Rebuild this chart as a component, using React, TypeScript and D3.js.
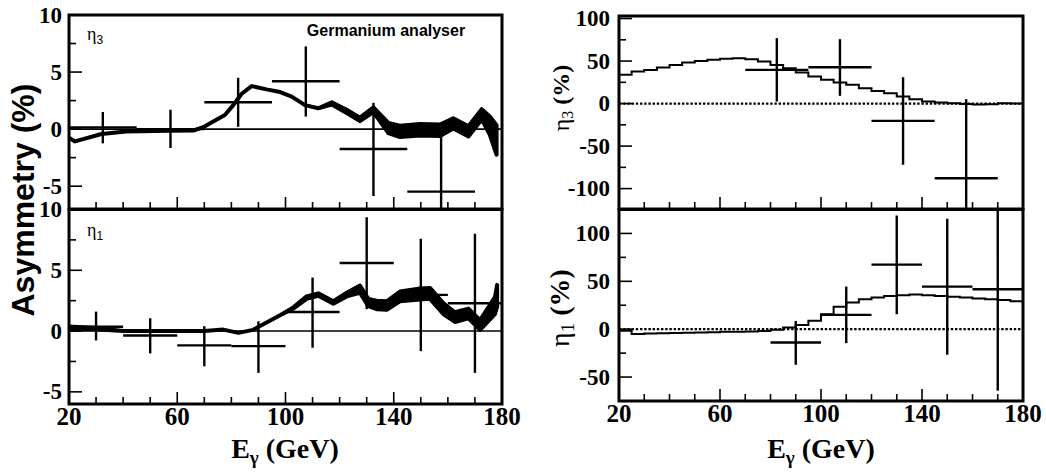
import React from "react";
import * as d3 from "d3";

// ---------- DATA ----------
// Left top: eta3, Germanium analyser (25 GeV bins)
const GE3_X = [32.5, 57.5, 82.5, 107.5, 132.5, 157.5];
const GE3_Y = [0.15, 0.0, 2.35, 4.2, -1.74, -5.48];
const GE3_HI = [1.5, 1.7, 4.5, 7.25, 2.3, -0.3];
const GE3_LO = [-1.25, -1.65, 0.2, 1.1, -5.86, -9];
const GE3_HALF = 12.5;

const GE3_CURVE_E = [20, 22.2, 32, 41, 57, 66, 69.6, 73.3, 77.6, 80.7, 83.8, 87.5, 93, 98, 102.3, 107.2, 112.1, 117.1, 122.6, 127.5, 132.5, 138, 142.3, 149.7, 157.1, 162, 167.6, 172.5, 175.5, 178];
const GE3_CURVE_Y = [-0.75, -1.08, -0.43, -0.2, -0.15, -0.12, 0.17, 0.66, 1.24, 2.1, 3.1, 3.77, 3.48, 3.25, 2.85, 2.1, 1.83, 2.25, 1.55, 0.85, 1.7, 0.09, -0.2, -0.05, -0.1, 0.5, -0.2, 1.3, 0.3, -0.95];
const GE3_CURVE_HW = [0, 0, 0, 0, 0, 0, 0, 0, 0, 0, 0, 0, 0, 0, 0, 0, 0, 0.1, 0.15, 0.15, 0.2, 0.45, 0.5, 0.5, 0.5, 0.45, 0.45, 0.45, 0.8, 1.3];

// Left bottom: eta1 (20 GeV bins)
const GE1_X = [30, 50, 70, 90, 110, 130, 150, 170];
const GE1_Y = [0.36, -0.36, -1.18, -1.24, 1.57, 5.6, 2.98, 2.29];
const GE1_HI = [1.6, 1.05, 0.4, 0.8, 4.4, 9.37, 7.6, 8.0];
const GE1_LO = [-0.77, -1.84, -2.9, -3.44, -1.37, 1.8, -1.65, -3.44];
const GE1_HALF = 10;

const GE1_CURVE_E = [20, 30, 40, 60, 70, 77, 82.6, 88, 93, 98, 102.9, 107.8, 112.1, 117.7, 122.6, 127.5, 130.6, 133.7, 137.4, 142.3, 149.7, 153.4, 158.3, 162.6, 167.6, 171.9, 177.4, 178.2];
const GE1_CURVE_Y = [0.28, 0.2, 0.0, 0.0, 0.0, 0.12, -0.15, 0.1, 0.7, 1.3, 1.9, 2.75, 3.0, 2.35, 3.0, 3.45, 2.35, 2.15, 2.1, 2.85, 3.05, 3.1, 1.85, 1.15, 1.45, 0.5, 2.1, 2.9];
const GE1_CURVE_HW = [0.1, 0.05, 0, 0, 0, 0, 0, 0, 0, 0, 0.05, 0.1, 0.1, 0.1, 0.15, 0.3, 0.3, 0.35, 0.35, 0.4, 0.45, 0.45, 0.45, 0.4, 0.4, 0.4, 0.7, 0.9];

// Right top: eta3 (%) (25 GeV bins) + 5 GeV histogram
const R3_X = [82.5, 107.5, 132.5, 157.5];
const R3_Y = [39.6, 42.8, -20.4, -87.8];
const R3_HI = [77, 75.8, 31, 5.2];
const R3_LO = [2.4, 9.1, -72, -130];
const R3_HALF = 12.5;
const R3_HIST = [33.8, 37.6, 39.6, 42.4, 45.5, 48.2, 50.2, 51.4, 52.6, 53.4, 52.2, 49.4, 45.5, 41.6, 36.5, 31.8, 27.9, 24.7, 22, 18.1, 14.9, 12.2, 8.2, 5.1, 2.4, 1.2, 0.3, -0.5, -1, -0.8, 0.3, 0];

// Right bottom: eta1 (%) (20 GeV bins) + 5 GeV histogram
const R1_X = [90, 110, 130, 150, 170];
const R1_Y = [-13.9, 14.9, 67.4, 44.5, 41.7];
const R1_HI = [8.6, 44.5, 118.75, 115.3, 130];
const R1_LO = [-37.2, -14.6, 15.6, -26.7, -64.2];
const R1_HALF = 10;
const R1_HIST = [-1.7, -5, -4.6, -4.3, -4, -3.7, -3.4, -3.1, -2.8, -2.6, -2.3, -1.9, -0.6, 1.7, 4.3, 8.9, 15.6, 23.4, 27.8, 31.25, 33, 34.7, 35.4, 36.1, 35.4, 34.7, 34, 33, 32, 31.25, 30.6, 29.3];
const HIST_START = 20;
const HIST_STEP = 5;

const X_TICKS = [20, 60, 100, 140, 180];
const X_MINOR = [30, 40, 50, 70, 80, 90, 110, 120, 130, 150, 160, 170];

type PanelProps = {
  id: string;
  x0: number; x1: number; y0: number; y1: number;
  yDomain: [number, number];
  yMajor: number[]; yMinor: number[];
  labelX: number;
  xLabels: boolean;
  dottedZero: boolean;
  children: (sx: d3.ScaleLinear<number, number>, sy: d3.ScaleLinear<number, number>) => React.ReactNode;
};

function Panel(p: PanelProps) {
  const sx = d3.scaleLinear().domain([20, 180]).range([p.x0, p.x1]);
  const sy = d3.scaleLinear().domain(p.yDomain).range([p.y1, p.y0]);
  return (
    <g>
      <defs>
        <clipPath id={p.id}>
          <rect x={p.x0} y={p.y0} width={p.x1 - p.x0} height={p.y1 - p.y0} />
        </clipPath>
      </defs>
      <line x1={p.x0} x2={p.x1} y1={sy(0)} y2={sy(0)} stroke="#000"
        strokeWidth={p.dottedZero ? 2.2 : 1.6}
        strokeDasharray={p.dottedZero ? "2.4,1.8" : undefined} />
      <g clipPath={`url(#${p.id})`}>{p.children(sx, sy)}</g>
      {X_TICKS.map((t) => (
        <line key={"xt" + t} x1={sx(t)} x2={sx(t)} y1={p.y1} y2={p.y1 - 12} stroke="#000" strokeWidth={1.6} />
      ))}
      {X_MINOR.map((t) => (
        <line key={"xm" + t} x1={sx(t)} x2={sx(t)} y1={p.y1} y2={p.y1 - 7} stroke="#000" strokeWidth={1.6} />
      ))}
      {p.yMajor.map((t) => (
        <line key={"yt" + t} x1={p.x0} x2={p.x0 + 13} y1={sy(t)} y2={sy(t)} stroke="#000" strokeWidth={1.6} />
      ))}
      {p.yMinor.map((t) => (
        <line key={"ym" + t} x1={p.x0} x2={p.x0 + 7} y1={sy(t)} y2={sy(t)} stroke="#000" strokeWidth={1.6} />
      ))}
      {p.yMajor.map((t) => (
        <text key={"yl" + t} x={p.labelX} y={sy(t) + 7.5} textAnchor="end"
          fontFamily="Liberation Serif" fontWeight="bold" fontSize={23}>{String(t)}</text>
      ))}
      {p.xLabels && X_TICKS.map((t) => (
        <text key={"xl" + t} x={sx(t)} y={p.y1 + 21} textAnchor="middle"
          fontFamily="Liberation Serif" fontWeight="bold" fontSize={25}>{String(t)}</text>
      ))}
      <rect x={p.x0} y={p.y0} width={p.x1 - p.x0} height={p.y1 - p.y0} fill="none" stroke="#000" strokeWidth={3} />
    </g>
  );
}

function Crosses(props: { sx: any; sy: any; xs: number[]; ys: number[]; hi: number[]; lo: number[]; half: number }) {
  const { sx, sy, xs, ys, hi, lo, half } = props;
  return (
    <g stroke="#000" strokeWidth={2.4}>
      {xs.map((x, i) => (
        <g key={i}>
          <line x1={sx(x - half)} x2={sx(x + half)} y1={sy(ys[i])} y2={sy(ys[i])} />
          <line x1={sx(x)} x2={sx(x)} y1={sy(hi[i])} y2={sy(lo[i])} />
        </g>
      ))}
    </g>
  );
}

function Band(props: { sx: any; sy: any; es: number[]; ys: number[]; hw: number[] }) {
  const { sx, sy, es, ys, hw } = props;
  const pts = es.map((e, i) => ({ e, y: ys[i], h: hw[i] }));
  const area = d3.area<any>()
    .x((d) => sx(d.e))
    .y0((d) => sy(d.y - d.h))
    .y1((d) => sy(d.y + d.h))
    .curve(d3.curveLinear);
  return <path d={area(pts) || ""} fill="#000" stroke="#000" strokeWidth={4} strokeLinejoin="round" />;
}

function Hist(props: { sx: any; sy: any; vals: number[] }) {
  const { sx, sy, vals } = props;
  const pts = vals.map((v, i) => [HIST_START + i * HIST_STEP, v] as [number, number]);
  pts.push([HIST_START + vals.length * HIST_STEP, vals[vals.length - 1]]);
  const line = d3.line<[number, number]>().x((d) => sx(d[0])).y((d) => sy(d[1])).curve(d3.curveStepAfter);
  return <path d={line(pts) || ""} fill="none" stroke="#000" strokeWidth={2} />;
}

export default function App() {
  return (
    <svg width={1046} height={472} style={{ position: "absolute", left: 0, top: 0, background: "#fff" }}>
      <rect width={1046} height={472} fill="#fff" />
      <Panel id="clt" x0={69} x1={502} y0={15} y1={209} yDomain={[-7, 10]}
        yMajor={[-5, 0, 5, 10]} yMinor={[-2.5, 2.5, 7.5]} labelX={62} xLabels={false} dottedZero={false}>
        {(sx, sy) => (
          <g>
            <Band sx={sx} sy={sy} es={GE3_CURVE_E} ys={GE3_CURVE_Y} hw={GE3_CURVE_HW} />
            <Crosses sx={sx} sy={sy} xs={GE3_X} ys={GE3_Y} hi={GE3_HI} lo={GE3_LO} half={GE3_HALF} />
          </g>
        )}
      </Panel>
      <Panel id="clb" x0={69} x1={502} y0={209.5} y1={404} yDomain={[-6, 10]}
        yMajor={[-5, 0, 5, 10]} yMinor={[-2.5, 2.5, 7.5]} labelX={62} xLabels={true} dottedZero={false}>
        {(sx, sy) => (
          <g>
            <Band sx={sx} sy={sy} es={GE1_CURVE_E} ys={GE1_CURVE_Y} hw={GE1_CURVE_HW} />
            <Crosses sx={sx} sy={sy} xs={GE1_X} ys={GE1_Y} hi={GE1_HI} lo={GE1_LO} half={GE1_HALF} />
          </g>
        )}
      </Panel>
      <Panel id="crt" x0={619} x1={1023} y0={16} y1={209} yDomain={[-124, 103]}
        yMajor={[-100, -50, 0, 50, 100]} yMinor={[-75, -25, 25, 75]} labelX={610} xLabels={false} dottedZero={true}>
        {(sx, sy) => (
          <g>
            <Hist sx={sx} sy={sy} vals={R3_HIST} />
            <Crosses sx={sx} sy={sy} xs={R3_X} ys={R3_Y} hi={R3_HI} lo={R3_LO} half={R3_HALF} />
          </g>
        )}
      </Panel>
      <Panel id="crb" x0={619} x1={1023} y0={209.5} y1={401} yDomain={[-75, 125]}
        yMajor={[-50, 0, 50, 100]} yMinor={[-25, 25, 75]} labelX={610} xLabels={true} dottedZero={true}>
        {(sx, sy) => (
          <g>
            <Hist sx={sx} sy={sy} vals={R1_HIST} />
            <Crosses sx={sx} sy={sy} xs={R1_X} ys={R1_Y} hi={R1_HI} lo={R1_LO} half={R1_HALF} />
          </g>
        )}
      </Panel>

      <text x={87} y={40} fontFamily="Liberation Serif" fontSize={18}>η<tspan fontFamily="Liberation Sans" fontSize={12} dy={4}>3</tspan></text>
      <text x={87} y={236} fontFamily="Liberation Serif" fontSize={18}>η<tspan fontFamily="Liberation Sans" fontSize={12} dy={4}>1</tspan></text>
      <text x={386} y={36} textAnchor="middle" fontFamily="Liberation Sans" fontWeight="bold" fontSize={16}>Germanium analyser</text>

      <text transform="translate(34,200) rotate(-90)" textAnchor="middle" fontFamily="Liberation Sans" fontWeight="bold" fontSize={32}>Asymmetry (%)</text>
      <text transform="translate(569,98) rotate(-90)" textAnchor="middle" fontFamily="Liberation Serif" fontSize={24}>η<tspan fontSize={16} dy={4}>3</tspan><tspan dy={-4} fontWeight="bold"> (%)</tspan></text>
      <text transform="translate(569,308) rotate(-90)" textAnchor="middle" fontFamily="Liberation Serif" fontSize={28}>η<tspan fontSize={19} dy={5}>1</tspan><tspan dy={-5} fontWeight="bold"> (%)</tspan></text>
      <text x={285} y={458} textAnchor="middle" fontFamily="Liberation Serif" fontWeight="bold" fontSize={28}>E<tspan fontSize={19} dy={6}>γ</tspan><tspan dy={-6}> (GeV)</tspan></text>
      <text x={821} y={458} textAnchor="middle" fontFamily="Liberation Serif" fontWeight="bold" fontSize={28}>E<tspan fontSize={19} dy={6}>γ</tspan><tspan dy={-6}> (GeV)</tspan></text>
    </svg>
  );
}
